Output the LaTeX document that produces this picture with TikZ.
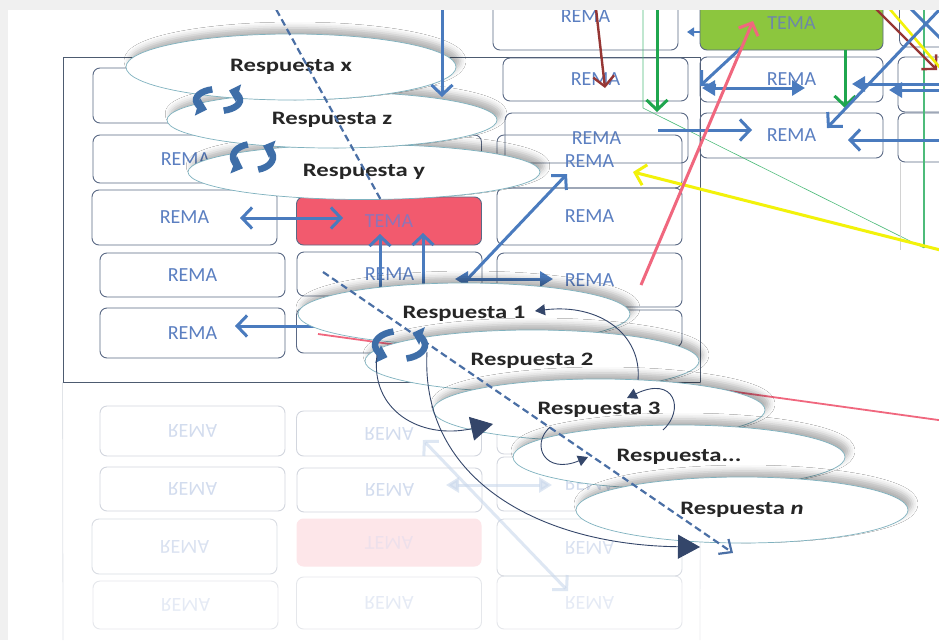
\documentclass[tikz,border=0pt]{standalone}
\usepackage{fontspec}
\setmainfont{Carlito}
\newfontfamily\respfont{Carlito}[FakeStretch=1.3]
\usepackage{graphicx}
\usepackage{tikz}
\usetikzlibrary{arrows.meta,positioning,shapes.geometric,shadows.blur}
\definecolor{boxline}{HTML}{5A6985}
\definecolor{rematxt}{HTML}{5B7FC1}
\definecolor{temared}{HTML}{F25A6E}
\definecolor{temaredtxt}{HTML}{8E74B8}
\definecolor{temagreen}{HTML}{8CC63E}
\definecolor{temagreentxt}{HTML}{6E88A8}
\definecolor{ablue}{HTML}{4A7BBE}
\definecolor{abrown}{HTML}{963634}
\definecolor{apink}{HTML}{F0677E}
\definecolor{agreen}{HTML}{1FA64E}
\definecolor{ateal}{HTML}{4DBB7A}
\definecolor{ayellow}{HTML}{F2F20A}
\definecolor{ellline}{HTML}{7FB2BF}
\definecolor{curvenavy}{HTML}{34466A}
\definecolor{cycblue}{HTML}{3E6EA8}
\definecolor{dashblue}{HTML}{4A6FA5}
\definecolor{resptxt}{HTML}{262626}
\definecolor{framec}{HTML}{4D5B70}

\begin{document}
\begin{tikzpicture}[x=1pt, y=-1pt,
  rema/.style={draw=boxline, rounded corners=7pt, line width=0.9pt,
               text=rematxt, minimum width=185pt, inner sep=0pt,
               font=\fontsize{20}{24}\selectfont},
  tema/.style={rema, fill=temared, text=temaredtxt},
  refl/.style={rema, draw=boxline!45, text=rematxt!45},
  resp/.style={ellipse, draw=ellline, line width=0.7pt, fill=white,
               minimum width=332pt, minimum height=62pt, inner sep=0pt,
               text=resptxt, font={\respfont\bfseries\fontsize{19}{22}\selectfont},
               blur shadow={shadow xshift=4pt, shadow yshift=6pt,
                            shadow blur radius=6pt, shadow opacity=30}},
  arrow/.style={draw=ablue, line width=3pt, -{Straight Barb[length=10pt,width=21pt]}},
  arrow2/.style={arrow, {Straight Barb[length=10pt,width=21pt]}-{Straight Barb[length=10pt,width=21pt]}},
  tri/.style={draw=ablue, line width=3pt, -{Triangle[length=13pt,width=15pt]}},
  tri2/.style={tri, {Triangle[length=13pt,width=15pt]}-{Triangle[length=13pt,width=15pt]}},
  dashline/.style={draw=dashblue, line width=2.2pt, dash pattern=on 7pt off 4pt},
  curva/.style={draw=curvenavy, line width=0.9pt, -{Triangle[length=10pt,width=11pt]}},
  curvagrande/.style={curva, -{Triangle[length=22pt,width=24pt]}},
  ciclo/.style={draw=cycblue, line width=6.5pt, -{Triangle[length=10pt,width=18pt]}}
]
\useasboundingbox (0,0) rectangle (939,640);
\fill[gray!12] (0,0) rectangle (939,640);
\fill[white] (8,10) rectangle (939,640);
\begin{scope}
\clip (8,10) rectangle (939,640);

% marco
\node[draw=framec, line width=0.9pt, minimum width=637pt, minimum height=325pt, inner sep=0pt] (marco) at (381.5,219.5) {};

% reflejo
\begin{scope}[opacity=0.6]
\coordinate (mL) at (63,640);
\coordinate (mR) at (700,640);
\draw[boxline!30, line width=0.8pt] (marco.south west) -- (mL);
\draw[boxline!20, line width=0.8pt] (marco.south east) -- (mR);
\node[refl, minimum height=50pt] (rc1e) at (192.5,431) {\scalebox{1}[-1]{REMA}};
\node[refl, minimum height=45pt] (rc2e) at (389,433.5) {\scalebox{1}[-1]{REMA}};
\node[refl, minimum height=37pt] (rc3e) at (589.5,435.5) {};
\node[refl, minimum height=44pt] (rc1d) at (192.5,489) {\scalebox{1}[-1]{REMA}};
\node[refl, minimum height=44pt] (rc2d) at (389.5,490) {\scalebox{1}[-1]{REMA}};
\node[refl, minimum height=54pt] (rc3d) at (589.5,484) {\scalebox{1}[-1]{REMA}};
\node[refl, opacity=0.5, minimum height=55pt] (rc1c) at (184.5,546.5) {\scalebox{1}[-1]{REMA}};
\node[refl, draw=none, fill=temared!25, text=temaredtxt!25, minimum height=48pt] (rtema) at (389,542.5) {\scalebox{1}[-1]{TEMA}};
\node[refl, opacity=0.5, minimum height=57pt] (rc3c) at (589.5,547.5) {\scalebox{1}[-1]{REMA}};
\node[refl, opacity=0.35, minimum height=48pt] (rc1b) at (185.5,605) {\scalebox{1}[-1]{REMA}};
\node[refl, opacity=0.35, minimum height=52pt] (rc2b) at (389,603) {\scalebox{1}[-1]{REMA}};
\node[refl, opacity=0.35, minimum height=53pt] (rc3b) at (589.5,602.5) {\scalebox{1}[-1]{REMA}};
\coordinate (rfA) at (423,440);
\coordinate (rfB) at (568,591);
\coordinate (rfC) at (446,485);
\coordinate (rfD) at (552,485);
\draw[arrow2, draw=ablue!30] (rfA) -- (rfB);
\draw[tri2, draw=ablue!30] (rfC) -- (rfD);
\end{scope}

% columna 1
\node[rema, minimum height=55pt] (c1a) at (185.5,95.5) {};
\node[rema, minimum height=48pt] (c1b) at (185.5,159) {REMA};
\node[rema, minimum height=55pt] (c1c) at (184.5,217.5) {REMA};
\node[rema, minimum height=44pt] (c1d) at (192.5,275) {REMA};
\node[rema, minimum height=50pt] (c1e) at (192.5,333) {REMA};
% columna 2
\node[rema, minimum height=52pt] (c2b) at (389,161) {};
\node[tema, minimum height=48pt] (tema) at (389,221) {TEMA};
\node[rema, minimum height=44pt] (c2d) at (389.5,274) {REMA};
\node[rema, minimum height=45pt] (c2e) at (389,330.5) {};
% columna 3
\node[rema, minimum height=68pt] (c3t) at (585.5,16) {REMA};
\node[rema, minimum height=43pt] (c3a) at (595.5,79.5) {REMA};
\node[rema, minimum width=183pt, minimum height=50pt] (c3b) at (596.5,138) {REMA};
\node[rema, minimum height=53pt] (c3bb) at (589.5,161.5) {REMA};
\node[rema, minimum height=57pt] (c3c) at (589.5,216.5) {REMA};
\node[rema, minimum height=54pt] (c3d) at (589.5,280) {REMA};
\node[rema, minimum height=37pt] (c3e) at (589.5,328.5) {};
% derecha
\node[tema, fill=temagreen, text=temagreentxt, minimum width=183pt, minimum height=54pt] (temag) at (791.5,23) {TEMA};
\node[rema, minimum width=183pt, minimum height=45pt] (d1) at (791.5,79.5) {REMA};
\node[rema, minimum width=183pt, minimum height=45pt] (d2) at (791.5,135.5) {REMA};
\node[rema, minimum height=68pt] (e0) at (992,13) {};
\node[rema, minimum height=55pt] (e1) at (990.5,84.5) {};
\node[rema, minimum height=49pt] (e2) at (990.5,137.5) {};

% extremos libres
\coordinate (vA) at (442,0);   \coordinate (vB) at (442,97);
\coordinate (hA) at (240,218); \coordinate (hB) at (343,218);
\coordinate (u1) at (380,298); \coordinate (u1t) at (380,234);
\coordinate (u2) at (423,298); \coordinate (u2t) at (423,233);
\coordinate (dgA) at (423,326); \coordinate (dgB) at (567,174);
\coordinate (hrA) at (455,279); \coordinate (hrB) at (553,279);
\coordinate (lfA) at (330,326); \coordinate (lfB) at (235,326);
\coordinate (pkA) at (641,285); \coordinate (pkB) at (753,21);
\coordinate (plA) at (318,334); \coordinate (plB) at (960,423);
\coordinate (brA) at (595,0);  \coordinate (brB) at (605,88);
\coordinate (brC) at (867,0);  \coordinate (brD) at (937,70);
\coordinate (gA) at (657,0);   \coordinate (gB) at (657,112);
\coordinate (gC) at (845,50);  \coordinate (gD) at (845,108);
\coordinate (tgA) at (643,0);  \coordinate (tgB) at (643,108);
\coordinate (tgC) at (924,248); \coordinate (tgD) at (924,0);
\coordinate (grA) at (900,162); \coordinate (grB) at (900,250);
\coordinate (yA) at (960,255); \coordinate (yB) at (633,172);
\coordinate (yC) at (882,0);   \coordinate (yD) at (960,91);
\coordinate (bA) at (702,88);  \coordinate (bB) at (805,88);
\coordinate (bC) at (742,47);  \coordinate (bD) at (700,86);
\coordinate (bE) at (658,130); \coordinate (bF) at (752,130);
\coordinate (bG) at (960,140); \coordinate (bH) at (848,140);
\coordinate (bI) at (960,-12); \coordinate (bJ) at (827,128);
\coordinate (bK) at (900,-2);  \coordinate (bL) at (960,58);
\coordinate (bM) at (960,84);  \coordinate (bN) at (852,84);
\coordinate (bO) at (960,90);  \coordinate (bP) at (889,90);
\coordinate (bQ) at (700,32);  \coordinate (bR) at (687,32);

% conectores bajo las respuestas
\draw[ateal, line width=0.6pt] (tgA) -- (tgB) -- (tgC);
\draw[ateal, line width=2pt] (tgD) -- (tgC);
\draw[gray!35, line width=0.8pt] (grA) -- (grB);
\draw[arrow, draw=agreen] (gA) -- (gB);
\draw[arrow, draw=agreen] (gC) -- (gD);
\draw[arrow, draw=abrown, line width=2.4pt] (brA) -- (brB);
\draw[arrow, draw=abrown, line width=2.4pt] (brC) -- (brD);
\draw[ayellow, line width=2.6pt] (yC) -- (yD);
\draw[arrow, draw=ayellow] (yA) -- (yB);
\draw[tri2] (bA) -- (bB);
\draw[arrow] (bC) -- (bD);
\draw[arrow] (bE) -- (bF);
\draw[arrow] (bG) -- (bH);
\draw[arrow] (bI) -- (bJ);
\draw[ablue, line width=3pt] (bK) -- (bL);
\draw[tri] (bM) -- (bN);
\draw[tri] (bO) -- (bP);
\draw[tri, line width=1.5pt, -{Triangle[length=7pt,width=9pt]}] (bQ) -- (bR);
\draw[arrow, draw=apink] (pkA) -- (pkB);
\draw[apink, line width=1.8pt] (plA) -- (plB);
\draw[arrow2] (hA) -- (hB);
\draw[arrow] (u1) -- (u1t);
\draw[arrow] (u2) -- (u2t);
\draw[arrow2] (dgA) -- (dgB);
\draw[tri2] (hrA) -- (hrB);
\draw[arrow] (lfA) -- (lfB);

% respuestas
\node[resp, minimum width=352pt, minimum height=55pt] (respy) at (364,172) {Respuesta y};
\node[resp, minimum width=330pt, minimum height=56pt] (respz) at (332,120) {Respuesta z};
\node[resp, minimum height=66pt, minimum width=330pt] (respx) at (291,67) {Respuesta x};
\node[resp] (r1) at (464,314) {Respuesta 1};
\node[resp, minimum width=334pt] (r2) at (532,361) {Respuesta 2};
\node[resp] (r3) at (599,410) {Respuesta 3};
\node[resp, minimum height=64pt] (r4) at (679,457) {Respuesta...};
\node[resp, minimum height=66pt] (rn) at (742,510) {Respuesta \textit{n}};

% encima de las respuestas
\draw[arrow] (vA) -- (vB);
\coordinate (dA) at (271,0);   \coordinate (dB) at (382,202);
\coordinate (dC) at (323,272); \coordinate (dD) at (733,553);
\draw[dashline] (dA) -- (dB);
\draw[dashline, -{Straight Barb[length=10pt,width=18pt]}] (dC) -- (dD);

\coordinate (cy1) at (218,100);
\coordinate (cy2) at (253,157);
\coordinate (cy3) at (400,345);
\draw[ciclo] ([shift={(255:22 and 11)}]cy1) arc[start angle=255, end angle=120, x radius=22, y radius=11];
\draw[ciclo] ([shift={(75:22 and 11)}]cy1) arc[start angle=75, end angle=-60, x radius=22, y radius=11];
\draw[ciclo] ([shift={(255:20 and 13)}]cy2) arc[start angle=255, end angle=120, x radius=20, y radius=13];
\draw[ciclo] ([shift={(75:20 and 13)}]cy2) arc[start angle=75, end angle=-60, x radius=20, y radius=13];
\draw[ciclo] ([shift={(255:25 and 14)}]cy3) arc[start angle=255, end angle=120, x radius=25, y radius=14];
\draw[ciclo] ([shift={(75:25 and 14)}]cy3) arc[start angle=75, end angle=-60, x radius=25, y radius=14];

\coordinate (k1) at (638,380); \coordinate (k1e) at (535,311);
\coordinate (k2) at (663,430); \coordinate (k2e) at (627,398);
\coordinate (k3) at (550,427); \coordinate (k3e) at (588,457);
\coordinate (k4) at (377,355); \coordinate (k4e) at (493,424);
\coordinate (k5) at (427,352); \coordinate (k5e) at (700,547);
\draw[curva] (k1) .. controls +(4,-45) and +(65,-8) .. (k1e);
\draw[curva] (k2) .. controls +(22,-20) and +(48,-23) .. (k2e);
\draw[curva] (k3) .. controls +(-20,18) and +(-43,18) .. (k3e);
\draw[curvagrande] (k4) .. controls +(-7,55) and +(-73,16) .. (k4e);
\draw[curvagrande] (k5) .. controls +(-7,128) and +(-160,-2) .. (k5e);
\end{scope}
\end{tikzpicture}
\end{document}
